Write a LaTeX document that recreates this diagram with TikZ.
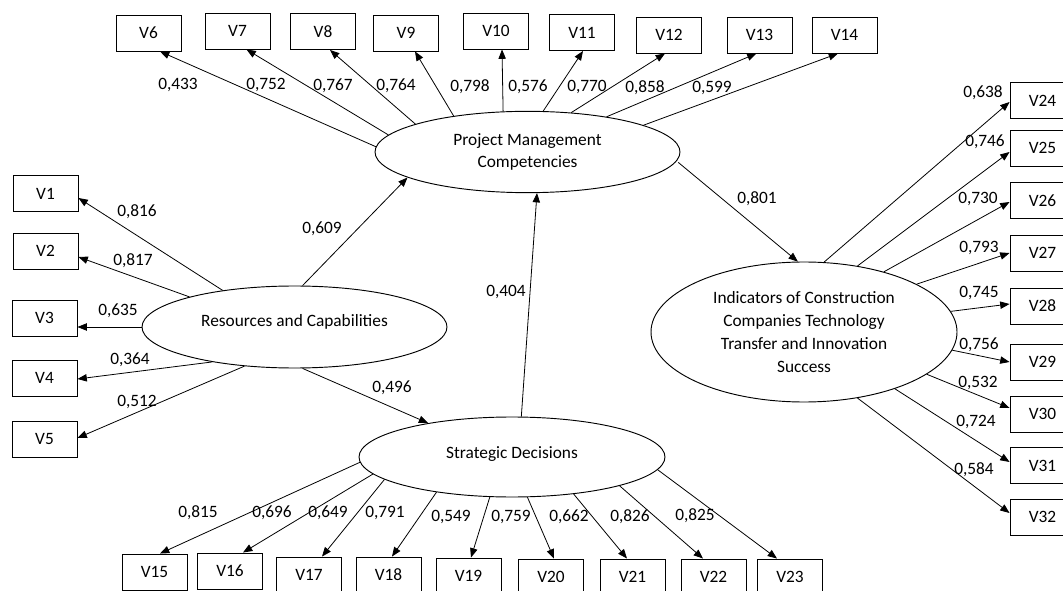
\documentclass[tikz,border=0pt]{standalone}
\usepackage{fontspec}
\setmainfont{Carlito}
\usetikzlibrary{arrows.meta,shapes.geometric}

\begin{document}
\begin{tikzpicture}[x=0.75pt,y=-0.75pt,
    font=\fontsize{13}{16}\selectfont,
    vbox/.style={draw, line width=0.7pt, minimum width=48.75pt, minimum height=27pt, inner sep=0pt},
    latent/.style={draw, ellipse, line width=0.7pt, inner sep=0pt, align=center},
    load/.style={line width=0.6pt, -{Triangle[length=7pt,width=5.5pt]}},
    coef/.style={inner sep=0pt}]

\useasboundingbox (0,0) rectangle (1063,591);

% Latent variables
\node[latent,
    minimum width=228.75pt,
    minimum height=61pt] (pmc) at (527.5,152) {Project Management\\Competencies};
\node[latent,
    minimum width=228.75pt,
    minimum height=61.5pt] (rc) at (294.5,327) {\raisebox{10pt}{Resources and Capabilities}};
\node[latent,
    minimum width=229.5pt,
    minimum height=60pt] (sd) at (512,457) {\raisebox{6pt}{Strategic Decisions}};
\node[latent,
    minimum width=229.5pt,
    minimum height=105pt,
    font=\fontsize{13}{17.25}\selectfont] (icc) at (804,332)
    {Indicators of Construction\\Companies Technology\\Transfer and Innovation\\Success};

% Indicator boxes
\foreach \n/\x/\y in {1/45.5/193.5, 2/45.5/251, 3/44.5/318, 4/44.5/378, 5/44.5/439,
    6/148.5/33, 7/237.5/31, 8/323/31.5, 9/406/33, 10/496/31, 11/582/32.5,
    12/669/35, 13/759.5/35, 14/844.5/35,
    15/154.5/572, 16/230/571, 17/309/575, 18/388.5/575, 19/468.5/576,
    20/551/577, 21/632.5/577, 22/713.5/577, 23/790/577,
    24/1042.5/100.5, 25/1042.5/148, 26/1042.5/200.5, 27/1042.5/253, 28/1042.5/306,
    29/1042.5/362, 30/1042.5/414, 31/1042.5/465.5, 32/1042.5/517}
    \node[vbox] (v\n) at (\x,\y) {V\n};

% Loadings of Resources and Capabilities
\foreach \n/\a/\s/\v/\lx/\ly in {1/153.6/4.5/816/137/212, 2/164.7/6/817/133/261,
    3/180/9/635/118/311, 4/203.6/1/364/130/360, 5/218.7/-1/512/137/402}{
    \draw[load] (rc.\a) -- ([shift={(0,\s)}]v\n.east);
    \node[coef] (l\n) at (\lx,\ly) {0,\v};
}

% Loadings of Project Management Competencies
\foreach \n/\a/\s/\v/\lx/\ly in {6/178/11.5/433/178/85, 7/173.7/9/752/266/85,
    8/166.6/7/767/333/86, 9/154/9/764/396/86, 10/121.8/6/798/470/87,
    11/69.6/1/576/528/87, 12/42/-4/770/587/87, 13/24.5/-3/858/645/88,
    14/13.9/-6.5/599/712/88}{
    \draw[load] (pmc.\a) -- ([shift={(\s,0)}]v\n.south);
    \node[coef] (l\n) at (\lx,\ly) {0,\v};
}

% Loadings of Strategic Decisions
\foreach \n/\a/\s/\v/\lx/\ly in {15/182/5.5/815/198/513, 16/187.9/13/696/272/513,
    17/190.9/13/649/328/513, 18/205/3.5/791/385/513, 19/241/2.5/549/451/517,
    20/291/3/759/511/517, 21/329.5/-5.5/662/569/517, 22/345.6/-10.5/826/630/517,
    23/355.8/-13/825/695/516}{
    \draw[load] (sd.\a) -- ([shift={(\s,0)}]v\n.north);
    \node[coef] (l\n) at (\lx,\ly) {0,\v};
}

% Loadings of the success indicators
\foreach \n/\a/\s/\v/\lx/\ly in {24/74.8/1.5/638/983/93, 25/51/4/746/985/142,
    26/37.9/1.5/730/978/199, 27/23/0/793/979/248, 28/8.4/-2/745/979/293,
    29/353.3/0/756/979/345, 30/341.6/-6/532/978/383, 31/328.5/-3.5/724/976/422,
    32/309/-4/584/974/470}{
    \draw[load] (icc.\a) -- ([shift={(0,\s)}]v\n.west);
    \node[coef] (l\n) at (\lx,\ly) {0,\v};
}

% Structural paths
\draw[load] (rc.79) -- (pmc.192);
\draw[load] (rc.281) -- (sd.158);
\draw[load] (sd.77) -- (pmc.283);
\draw[load] ([xshift=2pt]pmc.356) -- (icc.95);
\node[coef] (p609) at (322,229) {0,609};
\node[coef] (p496) at (392,388) {0,496};
\node[coef] (p404) at (506,292) {0,404};
\node[coef] (p801) at (757,199) {0,801};

\end{tikzpicture}
\end{document}
